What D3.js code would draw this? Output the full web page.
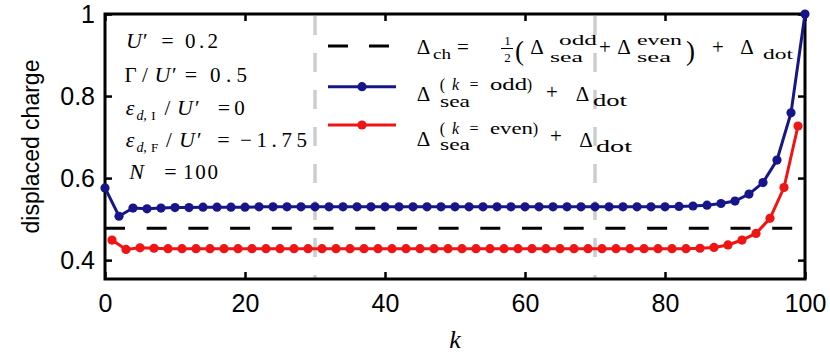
<!DOCTYPE html>
<html><head><meta charset="utf-8">
<script src="https://cdn.jsdelivr.net/npm/d3@7"></script>
<style>body{margin:0;background:#fff}</style>
</head><body><svg id="c" width="830" height="361"></svg>
<script>
// ---- data ----
const blueK = [0,2,4,6,8,10,12,14,16,18,20,22,24,26,28,30,32,34,36,38,40,42,44,46,48,50,52,54,56,58,60,62,64,66,68,70,72,74,76,78,80,82,84,86,88,90,92,94,96,98,100];
const blueVals = [0.576,0.507,0.527,0.525,0.527,0.528,0.528,0.529,0.529,0.529,0.529,
  0.530,0.530,0.530,0.530,0.530,0.530,0.530,0.530,0.530,0.530,0.530,0.530,0.530,0.530,0.530,0.530,0.530,0.530,0.530,0.530,0.530,0.530,0.530,0.530,0.530,0.530,0.530,0.530,0.530,
  0.530,0.531,0.532,0.534,0.538,0.544,0.561,0.589,0.644,0.759,1.000];
const redK = [1,3,5,7,9,11,13,15,17,19,21,23,25,27,29,31,33,35,37,39,41,43,45,47,49,51,53,55,57,59,61,63,65,67,69,71,73,75,77,79,81,83,85,87,89,91,93,95,97,99];
const redVals = [0.449,0.426,0.430,0.429,0.428,
  0.428,0.428,0.428,0.428,0.428,0.428,0.428,0.428,0.428,0.428,0.428,0.428,0.428,0.428,0.428,0.428,0.428,0.428,0.428,0.428,0.428,0.428,0.428,0.428,0.428,0.428,0.428,0.428,0.428,0.428,0.428,0.428,0.428,0.428,0.428,0.428,
  0.428,0.429,0.431,0.437,0.449,0.465,0.502,0.577,0.727];
const chK = [0,100];
const chVals = [0.478,0.478];
const markerK = [30,70];
const xTicks = [0,20,40,60,80,100];
const yTicks = [0.4,0.6,0.8,1];
const yTickLabels = ["0.4","0.6","0.8","1"];
const blueColor = "#16168a";
const redColor = "#f01414";

// ---- layout ----
const svg = d3.select("#c");
const L = 105, R = 805, T = 14, B = 279;
const x = d3.scaleLinear().domain([0,100]).range([L,R]);
const y = d3.scaleLinear().domain([0.354,1]).range([B,T]);
const SANS = "'Liberation Sans', Arial, sans-serif";
const SERIF = "'Liberation Serif', 'DejaVu Serif', serif";

// gray vertical dashed markers
svg.selectAll("line.mk").data(markerK).join("line")
  .attr("x1", d=>x(d)).attr("x2", d=>x(d)).attr("y1", y(1)+2).attr("y2", B)
  .attr("stroke","#cdcdcd").attr("stroke-width",3.5).attr("stroke-dasharray","19,18");

// frame
svg.append("rect").attr("x",L).attr("y",T).attr("width",R-L).attr("height",B-T)
  .attr("fill","none").attr("stroke","#000").attr("stroke-width",3);

// axes
function styleAxis(g){ g.select(".domain").remove(); g.selectAll(".tick line").attr("stroke","#000").attr("stroke-width",2.5);
  g.selectAll("text").attr("font-family",SANS).attr("font-size",25).attr("fill","#000"); }
svg.append("g").attr("transform",`translate(0,${B})`)
  .call(d3.axisBottom(x).tickValues(xTicks).tickSizeInner(-7).tickSizeOuter(0).tickPadding(15).tickFormat(d3.format("d"))).call(styleAxis);
svg.append("g").attr("transform",`translate(0,${T})`)
  .call(d3.axisTop(x).tickValues(xTicks).tickSizeInner(-7).tickSizeOuter(0).tickFormat("")).call(styleAxis);
svg.append("g").attr("transform",`translate(${L},0)`)
  .call(d3.axisLeft(y).tickValues(yTicks).tickSizeInner(-7).tickSizeOuter(0).tickPadding(10).tickFormat((d,i)=>yTickLabels[i])).call(styleAxis);
svg.append("g").attr("transform",`translate(${R},0)`)
  .call(d3.axisRight(y).tickValues(yTicks).tickSizeInner(-7).tickSizeOuter(0).tickFormat("")).call(styleAxis);

// axis titles
svg.append("text").attr("transform",`translate(39,${(T+B)/2}) rotate(-90)`).attr("text-anchor","middle")
  .attr("font-family",SANS).attr("font-size",23).text("displaced charge");
svg.append("text").attr("x",(L+R)/2).attr("y",348).attr("text-anchor","middle")
  .attr("font-family",SERIF).attr("font-style","italic").attr("font-size",26).text("k");

// data lines
const line = d3.line().x(d=>x(d[0])).y(d=>y(d[1]));
svg.append("path").datum(chK.map((k,i)=>[k,chVals[i]])).attr("d",line)
  .attr("fill","none").attr("stroke","#000").attr("stroke-width",3).attr("stroke-dasharray","20,21.7");
function series(ks, vs, col){
  const pts = ks.map((k,i)=>[k,vs[i]]);
  svg.append("path").datum(pts).attr("d",line).attr("fill","none").attr("stroke",col).attr("stroke-width",3);
  svg.append("g").selectAll("circle").data(pts).join("circle")
    .attr("cx",d=>x(d[0])).attr("cy",d=>y(d[1])).attr("r",4.6).attr("fill",col);
}
series(redK, redVals, redColor);
series(blueK, blueVals, blueColor);

// ---- math text helper: occupies x0..x1 at baseline py; mode "g" stretch glyphs, "s" spread spacing ----
function t(x0, x1, py, str, size, it, mode){
  const e = svg.append("text").attr("y",py).attr("font-family",SERIF).attr("font-size",size).attr("fill","#000").text(str);
  if(!mode){
    e.attr("x", x1 ? (x0+x1)/2 : x0).attr("text-anchor", x1 ? "middle" : "start");
  } else {
    e.attr("x",x0).attr("textLength",x1-x0).attr("lengthAdjust", mode==="g" ? "spacingAndGlyphs" : "spacing");
  }
  if(it) e.attr("font-style","italic");
  return e;
}

// left annotations
t(125,143,47.5,"U",22,1); t(143,0,47.5,"′",21); t(157,178,47.5,"=",22); t(185,218,47.5,"0.2",21,0,"s");
t(125,136,81.5,"Γ",21); t(140,150,81.5,"/",21); t(153,172,81.5,"U",22,1); t(172,0,81.5,"′",21); t(182,200,81.5,"=",22); t(210,247,81.5,"0.5",21,0,"s");
t(125,135,115,"ε",22,1); t(137,143,120,"d",14,1); t(143,147,120,",",14); t(150,157,120,"I",13);
t(163,172,115,"/",21); t(175,195,115,"U",22,1); t(195,0,115,"′",21); t(215,233,115,"=",22); t(234,245,115,"0",21);
t(125,135,147,"ε",22,1); t(137,143,152,"d",14,1); t(143,147,152,",",14); t(150,159,152,"F",13);
t(165,173,147,"/",21); t(177,197,147,"U",22,1); t(197,0,147,"′",21); t(215,232,147,"=",22); t(240,307,147,"−1.75",21,0,"s");
t(125,148,178.5,"N",22,1); t(162,179,178.5,"=",22); t(183,218,178.5,"100",21,0,"s");

// legend samples
const lgY = [46, 86.7, 125];
svg.append("line").attr("x1",328).attr("x2",389).attr("y1",lgY[0]).attr("y2",lgY[0])
  .attr("stroke","#000").attr("stroke-width",3).attr("stroke-dasharray","20,21");
[[blueColor,lgY[1]],[redColor,lgY[2]]].forEach(([c,yy])=>{
  svg.append("line").attr("x1",328).attr("x2",396).attr("y1",yy).attr("y2",yy).attr("stroke",c).attr("stroke-width",3);
  svg.append("circle").attr("cx",362).attr("cy",yy).attr("r",4.6).attr("fill",c);
});

// legend line 1
t(415,432,54,"Δ",21); t(433,451,59,"ch",15,0,"g"); t(454,472,54,"=",21);
t(504,511,45,"1",13); svg.append("line").attr("x1",501).attr("x2",513).attr("y1",48.5).attr("y2",48.5).attr("stroke","#000").attr("stroke-width",1);
t(503,512,62,"2",13);
t(516,523,60,"(",27); t(528,546,54,"Δ",21); t(559,597,45,"odd",15,0,"g"); t(550,583,62,"sea",15,0,"g");
t(598,612,54,"+",21); t(615,633,54,"Δ",21); t(637,682,45,"even",15,0,"g"); t(637,671,62,"sea",15,0,"g");
t(687,694,60,")",27); t(710,726,54,"+",21); t(738,756,54,"Δ",21); t(763,793,59,"dot",15,0,"g");

// legend line 2
t(415,432,101,"Δ",21); t(440,445,90,"(",16); t(450,461,90,"k",16,1); t(467,481,90,"=",16); t(490,527,90,"odd",16,0,"g"); t(527,532,90,")",16);
t(440,470,106.5,"sea",16,0,"g"); t(543,561,99,"+",21); t(573,592,101,"Δ",21); t(593,627,106,"dot",16,0,"g");

// legend line 3
t(415,432,146,"Δ",21); t(440,445,134,"(",16); t(450,461,134,"k",16,1); t(467,481,134,"=",16); t(490,533,134,"even",16,0,"g"); t(533,538,134,")",16);
t(440,470,150,"sea",16,0,"g"); t(547,565,143,"+",21); t(577,595,147,"Δ",21); t(596,632,152,"dot",16,0,"g");
</script></body></html>
